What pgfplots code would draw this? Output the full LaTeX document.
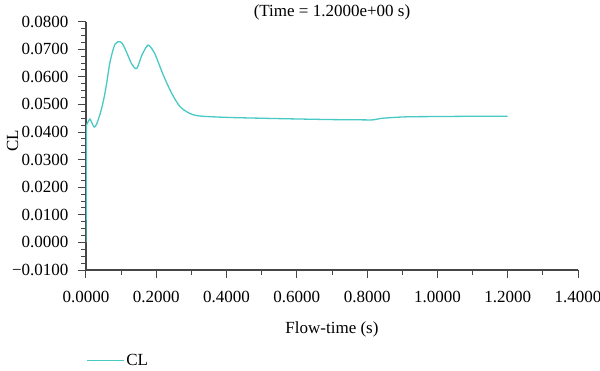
\documentclass[border=0pt]{standalone}
\usepackage{pgfplots}
\pgfplotsset{compat=1.18}
\usepackage{fontspec}
\setmainfont{Liberation Serif}
\definecolor{clcol}{RGB}{72,201,196}
\definecolor{axcol}{RGB}{70,70,70}
\newcommand{\ff}{\fontsize{17bp}{20bp}\selectfont}
\begin{document}
\begin{tikzpicture}
\useasboundingbox (-86bp,-101bp) rectangle (514bp,270bp);
\begin{axis}[
  at={(0,0)}, anchor=south west,
  scale only axis,
  width=492bp, height=248.4bp,
  xmin=0, xmax=1.4, ymin=-0.01, ymax=0.08,
  scaled x ticks=false, scaled y ticks=false,
  axis lines*=left,
  axis line style={axcol, line width=1.1bp},
  tick align=outside,
  major tick length=8bp, minor tick length=4.5bp,
  every tick/.style={axcol, line width=1bp},
  xtick={0,0.2,0.4,0.6,0.8,1.0,1.2,1.4},
  xticklabels={0.0000,0.2000,0.4000,0.6000,0.8000,1.0000,1.2000,1.4000},
  minor x tick num=1,
  ytick={-0.01,0,0.01,0.02,0.03,0.04,0.05,0.06,0.07,0.08},
  yticklabels={−0.0100,0.0000,0.0100,0.0200,0.0300,0.0400,0.0500,0.0600,0.0700,0.0800},
  minor y tick num=3,
  tick label style={font=\ff, text=black},
  every y tick label/.style={anchor=east},
  yticklabel shift=6bp,
  xticklabel style={anchor=north, yshift=-10bp},
  title={(Time = 1.2000e+00 s)},
  every axis title shift=0pt,
  every axis title/.style={font=\ff, at={(axis description cs:0.5,1)}, anchor=center, yshift=9.6bp},
  xlabel={Flow-time (s)},
  xlabel style={font=\ff, at={(axis description cs:0.5,0)}, anchor=center, yshift=-59bp},
  ylabel={CL},
  ylabel style={font=\ff, at={(axis description cs:-0.1494,0.519)}, anchor=center},
  legend style={draw=none, fill=none, font=\ff, at={(axis description cs:0,0)}, anchor=west, yshift=-90.5bp, inner sep=0pt, outer sep=0pt},
  legend image code/.code={\draw[#1] (0bp,0bp) -- (29bp,0bp); \path (0bp,0bp) -- (37bp,0bp);},
  legend cell align=left,
]
\addplot[clcol, line width=1.3bp, forget plot] coordinates {(0,0.0) (0.0015,0.0426)};
\addplot[clcol, line width=1.3bp, smooth, tension=0.5] coordinates {
(0.0015,0.0426) (0.006,0.0437) (0.0114,0.0447) (0.017,0.0432) (0.0235,0.0418)
(0.030,0.0428) (0.040,0.0465) (0.049,0.0510) (0.058,0.0570) (0.0683,0.0653)
(0.0825,0.0718) (0.0968,0.0727) (0.106,0.0715) (0.1158,0.0688) (0.130,0.0647)
(0.1443,0.0630) (0.1585,0.0677) (0.1727,0.0710) (0.180,0.0713) (0.196,0.0683)
(0.220,0.0606) (0.244,0.0540) (0.2675,0.0492) (0.296,0.0467) (0.324,0.0458)
(0.400,0.0453) (0.495,0.0450) (0.610,0.0447) (0.700,0.0445) (0.790,0.0444)
(0.817,0.0444) (0.845,0.0450) (0.913,0.0455) (1.000,0.0456) (1.100,0.0457) (1.200,0.0457)
};
\addlegendentry{CL}
\end{axis}
\end{tikzpicture}
\end{document}
